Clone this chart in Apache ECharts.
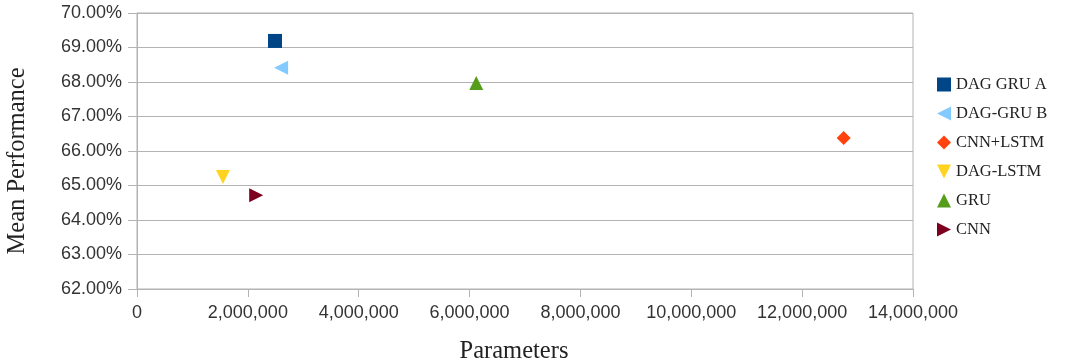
<!DOCTYPE html>
<html><head><meta charset="utf-8">
<script src="https://cdn.jsdelivr.net/npm/echarts@6/dist/echarts.min.js"></script>
<style>html,body{margin:0;padding:0;background:#fff}#c{width:1078px;height:360px}</style>
</head><body><div id="c"></div>
<script>
const seriesNames = ['DAG GRU A','DAG-GRU B','CNN+LSTM','DAG-LSTM','GRU','CNN'];
const paramsValues = [2490000, 2600000, 12750000, 1550000, 6120000, 2150000];
const perfValues = [69.19, 68.41, 66.38, 65.25, 67.97, 64.72];
const yTicks = [62, 63, 64, 65, 66, 67, 68, 69, 70];
const xTicks = [0, 2000000, 4000000, 6000000, 8000000, 10000000, 12000000, 14000000];

const colors = ['#004586','#83caff','#ff420e','#ffd320','#579d1c','#7e0021'];
const symbols = [
  'rect',
  'path://M10,0L10,10L0,5Z',
  'path://M5,0L10,5L5,10L0,5Z',
  'path://M0,0L10,0L5,10Z',
  'path://M0,10L5,0L10,10Z',
  'path://M0,0L10,5L0,10Z'
];
const sizes = [14, 14, 14, 14, 14, 14];

const chart = echarts.init(document.getElementById('c'));
chart.setOption({
  animation: false,
  grid: {left: 137, right: 165, top: 13, bottom: 71, containLabel: false, outerBoundsMode: 'none',
    show: true, borderColor: '#b3b3b3', borderWidth: 1},
  legend: {
    orient: 'vertical', left: 932, top: 71, itemGap: 12, itemWidth: 14, itemHeight: 14,
    data: seriesNames.map((n, i) => ({name: n, icon: symbols[i]})),
    textStyle: {fontFamily: 'Liberation Serif', fontSize: 16.5, color: '#222'}
  },
  xAxis: {
    type: 'value', min: xTicks[0], max: xTicks[xTicks.length-1], interval: 2000000,
    name: 'Parameters', nameLocation: 'middle', nameGap: 50,
    nameTextStyle: {fontFamily: 'Liberation Serif', fontSize: 24.5, color: '#222', padding: [0, 22, 0, 0]},
    axisLine: {show: true, lineStyle: {color: '#b3b3b3'}},
    axisTick: {show: true, length: 8, lineStyle: {color: '#b3b3b3'}},
    splitLine: {show: false},
    axisLabel: {fontFamily: 'Liberation Sans', fontSize: 18, color: '#333', margin: 15,
      formatter: v => v.toLocaleString('en-US')}
  },
  yAxis: {
    type: 'value', min: yTicks[0], max: yTicks[yTicks.length-1], interval: 1,
    name: 'Mean Performance', nameLocation: 'middle', nameGap: 107,
    nameTextStyle: {fontFamily: 'Liberation Serif', fontSize: 24.5, color: '#222', padding: [0, 20, 0, 0]},
    axisLine: {show: true, lineStyle: {color: '#b3b3b3'}},
    axisTick: {show: true, length: 9, lineStyle: {color: '#b3b3b3'}},
    splitLine: {show: true, lineStyle: {color: '#b3b3b3'}},
    axisLabel: {fontFamily: 'Liberation Sans', fontSize: 18, color: '#333', margin: 15,
      formatter: v => v.toFixed(2) + '%'}
  },
  series: seriesNames.map((n, i) => ({
    name: n, type: 'scatter',
    symbol: symbols[i], symbolSize: sizes[i],
    itemStyle: {color: colors[i], opacity: 1},
    data: [[paramsValues[i], perfValues[i]]]
  }))
});
</script></body></html>
